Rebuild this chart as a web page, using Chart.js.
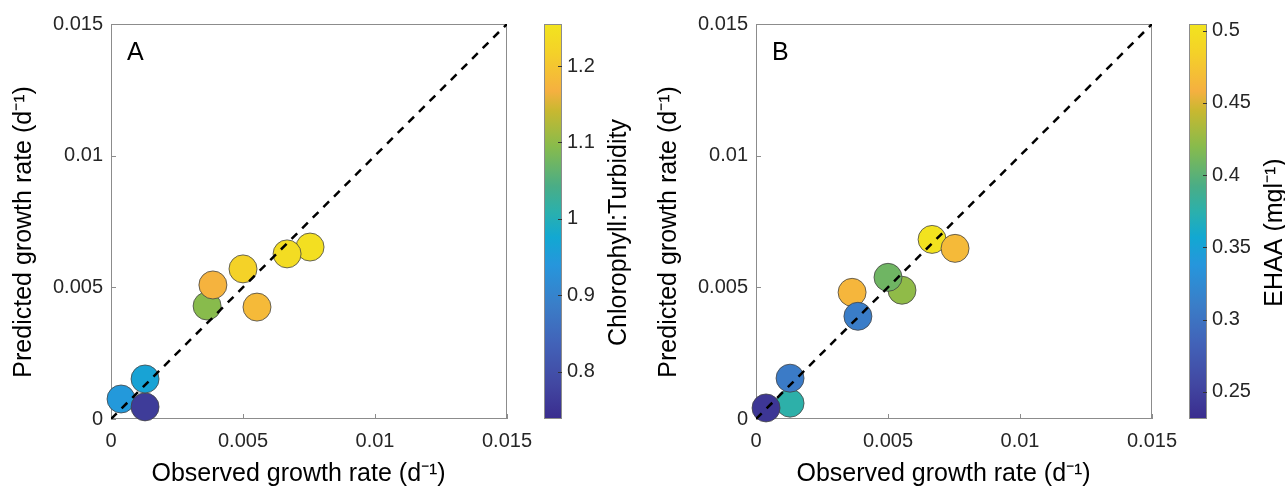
<!DOCTYPE html>
<html>
<head>
<meta charset="utf-8">
<script src="https://cdn.jsdelivr.net/npm/chart.js@4/dist/chart.umd.min.js"></script>
<style>
  body { margin: 0; background: #fff; }
  #wrap { position: relative; width: 1285px; height: 490px; overflow: hidden; }
  canvas { position: absolute; top: 0; }
  #chartA { left: 0; }
  #chartB { left: 645px; }
</style>
</head>
<body>
<div id="wrap">
  <canvas id="chartA" width="645" height="490"></canvas>
  <canvas id="chartB" width="640" height="490"></canvas>
</div>
<script>
// axis ticks shared by both panels
const axisTicks = [0, 0.005, 0.01, 0.015];
const axisTickLabels = ['0', '0.005', '0.01', '0.015'];
const diagLine = [0, 0.015];

// panel A: observed vs predicted, coloured by chlorophyll:turbidity
const obsA  = [0.00038, 0.00129, 0.00129, 0.00364, 0.00386, 0.00500, 0.00553, 0.00754, 0.00667];
const predA = [0.00076, 0.00046, 0.00152, 0.00429, 0.00509, 0.00570, 0.00425, 0.00653, 0.00627];
const chlTurb = [0.945, 0.764, 0.965, 1.095, 1.172, 1.219, 1.183, 1.245, 1.238];
const chlRange = [0.738, 1.255];
const chlTicks = [0.8, 0.9, 1, 1.1, 1.2];
const chlTickLabels = ['0.8', '0.9', '1', '1.1', '1.2'];

// panel B: observed vs predicted, coloured by EHAA
const obsB  = [0.00129, 0.00038, 0.00129, 0.00364, 0.00386, 0.00553, 0.00500, 0.00667, 0.00754];
const predB = [0.00060, 0.00042, 0.00155, 0.00481, 0.00390, 0.00489, 0.00538, 0.00682, 0.00648];
const ehaa = [0.376, 0.240, 0.308, 0.463, 0.310, 0.423, 0.409, 0.502, 0.466];
const ehaaRange = [0.2313, 0.5046];
const ehaaTicks = [0.25, 0.3, 0.35, 0.4, 0.45, 0.5];
const ehaaTickLabels = ['0.25', '0.3', '0.35', '0.4', '0.45', '0.5'];

// parula-like colour map as seen in the picture
const cmapPos = [0, 0.09, 0.19, 0.29, 0.39, 0.46, 0.525, 0.59, 0.69, 0.78, 0.83, 0.93, 1];
const cmapColors = ['#3a2c8e', '#4248a2', '#4262b8', '#3a7ec8', '#2696dc', '#12a8d2', '#2bb0ac',
                    '#4aad86', '#88bb4c', '#c8b830', '#f5b040', '#f4d228', '#f2e41e'];

const FONT = '"Liberation Sans", Arial, Helvetica, sans-serif';
const TICK_COLOR = '#262626';
const FRAME_COLOR = '#8c8c8c';

Chart.defaults.font.family = FONT;

function hexToRgb(h) {
  return [parseInt(h.slice(1, 3), 16), parseInt(h.slice(3, 5), 16), parseInt(h.slice(5, 7), 16)];
}

function colourFor(v, range) {
  let t = (v - range[0]) / (range[1] - range[0]);
  t = Math.min(1, Math.max(0, t));
  for (let i = 1; i < cmapPos.length; i++) {
    if (t <= cmapPos[i]) {
      const f = (t - cmapPos[i - 1]) / (cmapPos[i] - cmapPos[i - 1]);
      const a = hexToRgb(cmapColors[i - 1]);
      const b = hexToRgb(cmapColors[i]);
      const c = a.map((x, k) => Math.round(x + (b[k] - x) * f));
      return 'rgb(' + c.join(',') + ')';
    }
  }
  return cmapColors[cmapColors.length - 1];
}

// frame, inward ticks, colour bar and panel letter
const decor = {
  id: 'decor',
  beforeDatasetsDraw(chart, args, opts) {
    const { ctx, chartArea: a, scales } = chart;
    ctx.save();
    ctx.strokeStyle = FRAME_COLOR;
    ctx.lineWidth = 1;
    ctx.strokeRect(a.left + 0.5, a.top + 0.5, a.right - a.left - 1, a.bottom - a.top - 1);

    ctx.beginPath();
    scales.x.ticks.forEach(t => {
      const px = Math.round(scales.x.getPixelForValue(t.value)) + 0.5;
      ctx.moveTo(px, a.bottom);
      ctx.lineTo(px, a.bottom - 5);
    });
    scales.y.ticks.forEach(t => {
      const py = Math.round(scales.y.getPixelForValue(t.value)) + 0.5;
      ctx.moveTo(a.left, py);
      ctx.lineTo(a.left + 5, py);
    });
    ctx.stroke();

    // colour bar
    const c = scales.c;
    const x0 = a.right + 37, w = 18;
    const g = ctx.createLinearGradient(0, c.bottom, 0, c.top);
    cmapPos.forEach((p, i) => g.addColorStop(p, cmapColors[i]));
    ctx.fillStyle = g;
    ctx.fillRect(x0, c.top, w, c.bottom - c.top);
    ctx.strokeRect(x0 + 0.5, c.top + 0.5, w - 1, c.bottom - c.top - 1);
    ctx.strokeStyle = '#333';
    ctx.beginPath();
    c.ticks.forEach(t => {
      const py = Math.round(c.getPixelForValue(t.value)) + 0.5;
      ctx.moveTo(x0 + w, py);
      ctx.lineTo(x0 + w - 4, py);
    });
    ctx.stroke();

    // colour bar title
    ctx.font = '20px ' + FONT;
    const maxW = Math.max(...c.ticks.map(t => ctx.measureText(t.label).width));
    ctx.font = '25px ' + FONT;
    ctx.fillStyle = '#000';
    ctx.translate(x0 + w + 5 + maxW + 24, (c.top + c.bottom) / 2 + 11);
    ctx.rotate(-Math.PI / 2);
    ctx.textAlign = 'center';
    ctx.textBaseline = 'middle';
    ctx.fillText(opts.cbTitle, 0, 0);
    ctx.restore();

    // panel letter
    ctx.save();
    ctx.font = '25px ' + FONT;
    ctx.fillStyle = '#000';
    ctx.textBaseline = 'alphabetic';
    ctx.fillText(opts.letter, a.left + 16, a.top + 36);
    ctx.restore();
  }
};

function makePanel(id, width, obs, pred, vals, range, cbTicks, cbLabels, letter, cbTitle) {
  const points = obs.map((x, i) => ({ x: x, y: pred[i] }));
  const colours = vals.map(v => colourFor(v, range));
  return new Chart(document.getElementById(id), {
    type: 'scatter',
    data: {
      datasets: [{
        data: diagLine.map(v => ({ x: v, y: v })),
        showLine: true,
        borderColor: '#000',
        borderWidth: 2.5,
        borderDash: [8, 7],
        pointRadius: 0,
        order: 0
      }, {
        data: points,
        backgroundColor: colours,
        borderColor: '#444',
        borderWidth: 0.8,
        pointRadius: 14,
        pointHoverRadius: 14,
        clip: false,
        order: 1
      }]
    },
    options: {
      responsive: false,
      animation: false,
      events: [],
      layout: { padding: { top: 24, right: 0, bottom: 0, left: 0 } },
      plugins: {
        legend: { display: false },
        tooltip: { enabled: false },
        decor: { letter: letter, cbTitle: cbTitle }
      },
      scales: {
        x: {
          type: 'linear', position: 'bottom', min: 0, max: 0.015,
          grid: { display: false, drawTicks: false }, border: { display: false },
          afterBuildTicks: s => { s.ticks = axisTicks.map(v => ({ value: v })); },
          afterFit: s => { s.height = 71; },
          ticks: {
            padding: 10, color: TICK_COLOR, font: { size: 20 }, maxRotation: 0,
            callback: v => axisTickLabels[axisTicks.indexOf(v)]
          },
          title: {
            display: true, text: 'Observed growth rate (d\u207B\u00B9)\u00A0\u00A0\u00A0',
            color: '#000', font: { size: 25 }, padding: { top: 0, bottom: 1 }
          }
        },
        y: {
          type: 'linear', position: 'left', min: 0, max: 0.015,
          grid: { display: false, drawTicks: false }, border: { display: false },
          afterBuildTicks: s => { s.ticks = axisTicks.map(v => ({ value: v })); },
          afterFit: s => { s.width = 111; s.paddingTop = 0; s.paddingBottom = 0; },
          ticks: {
            padding: 8, color: TICK_COLOR, font: { size: 20 },
            callback: v => axisTickLabels[axisTicks.indexOf(v)]
          },
          title: {
            display: true, text: 'Predicted growth rate (d\u207B\u00B9)\u00A0\u00A0\u00A0',
            color: '#000', font: { size: 25 }, padding: { top: 9, bottom: 0 }
          }
        },
        c: {
          type: 'linear', position: 'right', min: range[0], max: range[1],
          grid: { display: false, drawTicks: false }, border: { display: false },
          afterBuildTicks: s => { s.ticks = cbTicks.map(v => ({ value: v })); },
          afterFit: s => { s.width = width - 507; s.paddingTop = 0; s.paddingBottom = 0; },
          ticks: {
            padding: 60, color: TICK_COLOR, font: { size: 20 },
            callback: v => cbLabels[cbTicks.indexOf(v)]
          }
        }
      }
    },
    plugins: [decor]
  });
}

makePanel('chartA', 645, obsA, predA, chlTurb, chlRange, chlTicks, chlTickLabels, 'A', 'Chlorophyll:Turbidity');
makePanel('chartB', 640, obsB, predB, ehaa, ehaaRange, ehaaTicks, ehaaTickLabels, 'B', 'EHAA (mgl\u207B\u00B9)');
</script>
</body>
</html>
